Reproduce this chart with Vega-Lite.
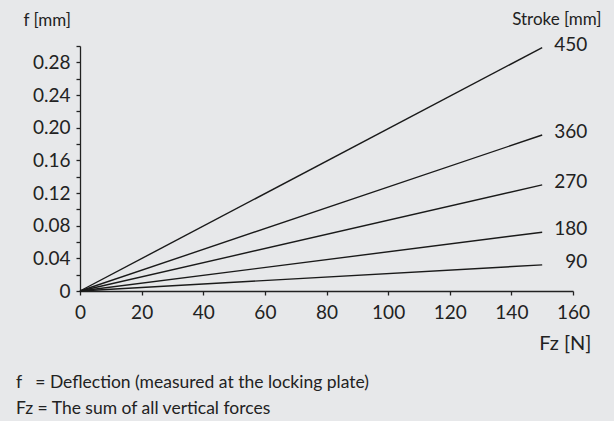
{
  "$schema": "https://vega.github.io/schema/vega-lite/v6.json",
  "width": 493,
  "height": 245,
  "autosize": {"type": "none"},
  "padding": {"left": 80, "top": 46, "right": 41, "bottom": 130},
  "background": "#e7e8ea",
  "config": {
    "view": {"stroke": null},
    "font": "Lato",
    "axis": {
      "domainColor": "#222222",
      "tickColor": "#222222",
      "labelColor": "#222222",
      "titleColor": "#222222",
      "domainWidth": 1.3,
      "tickWidth": 1.3,
      "tickSize": 4,
      "labelFont": "Lato",
      "labelFontSize": 19,
      "titleFont": "Lato",
      "titleFontSize": 16,
      "titleFontWeight": "normal",
      "grid": false
    }
  },
  "title": {
    "text": ["f \u00a0 = Deflection (measured at the locking plate)", "Fz = The sum of all vertical forces"],
    "orient": "bottom",
    "anchor": "start",
    "frame": "group",
    "dx": -64,
    "offset": 21,
    "font": "Lato",
    "fontSize": 17.5,
    "fontWeight": "normal",
    "color": "#222222",
    "lineHeight": 26
  },
  "data": {
    "values": [
      {"stroke": "450", "Fz": 0, "f": 0},
      {"stroke": "450", "Fz": 150, "f": 0.298},
      {"stroke": "360", "Fz": 0, "f": 0},
      {"stroke": "360", "Fz": 150, "f": 0.191},
      {"stroke": "270", "Fz": 0, "f": 0},
      {"stroke": "270", "Fz": 150, "f": 0.130},
      {"stroke": "180", "Fz": 0, "f": 0},
      {"stroke": "180", "Fz": 150, "f": 0.072},
      {"stroke": "90", "Fz": 0, "f": 0},
      {"stroke": "90", "Fz": 150, "f": 0.032}
    ]
  },
  "resolve": {"axis": {"y": "independent"}},
  "layer": [
    {
      "mark": {"type": "line", "color": "#1a1a1a", "strokeWidth": 1.4},
      "encoding": {
        "x": {
          "field": "Fz",
          "type": "quantitative",
          "scale": {"domain": [0, 160], "nice": false},
          "axis": {
            "values": [0, 10, 20, 30, 40, 50, 60, 70, 80, 90, 100, 110, 120, 130, 140, 150, 160],
            "labelExpr": "datum.value % 20 == 0 ? datum.label : ''",
            "labelPadding": 8,
            "labelFlush": false,
            "labelOverlap": false,
            "title": "Fz [N]",
            "titleFontSize": 20,
            "titleAlign": "right",
            "titleBaseline": "middle",
            "titleX": 511,
            "titleY": 52
          }
        },
        "y": {
          "field": "f",
          "type": "quantitative",
          "scale": {"domain": [0, 0.30], "nice": false},
          "axis": {
            "values": [0, 0.02, 0.04, 0.06, 0.08, 0.1, 0.12, 0.14, 0.16, 0.18, 0.2, 0.22, 0.24, 0.26, 0.28, 0.3],
            "labelExpr": "datum.value == 0 ? '0' : (round(datum.value * 100) % 4 == 0 ? format(datum.value, '.2f') : '')",
            "labelPadding": 6,
            "labelFlush": false,
            "labelOverlap": false,
            "title": "f [mm]",
            "titleAngle": 0,
            "titleAlign": "left",
            "titleBaseline": "middle",
            "titleX": -57,
            "titleY": -26,
            "titleFontSize": 17
          }
        },
        "detail": {"field": "stroke"}
      }
    },
    {
      "transform": [{"filter": "datum.Fz == 150"}],
      "mark": {"type": "text", "align": "right", "baseline": "middle", "dx": 45, "dy": -3, "fontSize": 19, "color": "#222222", "font": "Lato"},
      "encoding": {
        "x": {"field": "Fz", "type": "quantitative"},
        "y": {
          "field": "f",
          "type": "quantitative",
          "axis": {
            "orient": "right",
            "domain": false,
            "ticks": false,
            "labels": false,
            "title": "Stroke [mm]",
            "titleAngle": 0,
            "titleAlign": "right",
            "titleBaseline": "middle",
            "titleX": 28,
            "titleY": -27,
            "titleFontSize": 17
          }
        },
        "text": {"field": "stroke"}
      }
    }
  ]
}
